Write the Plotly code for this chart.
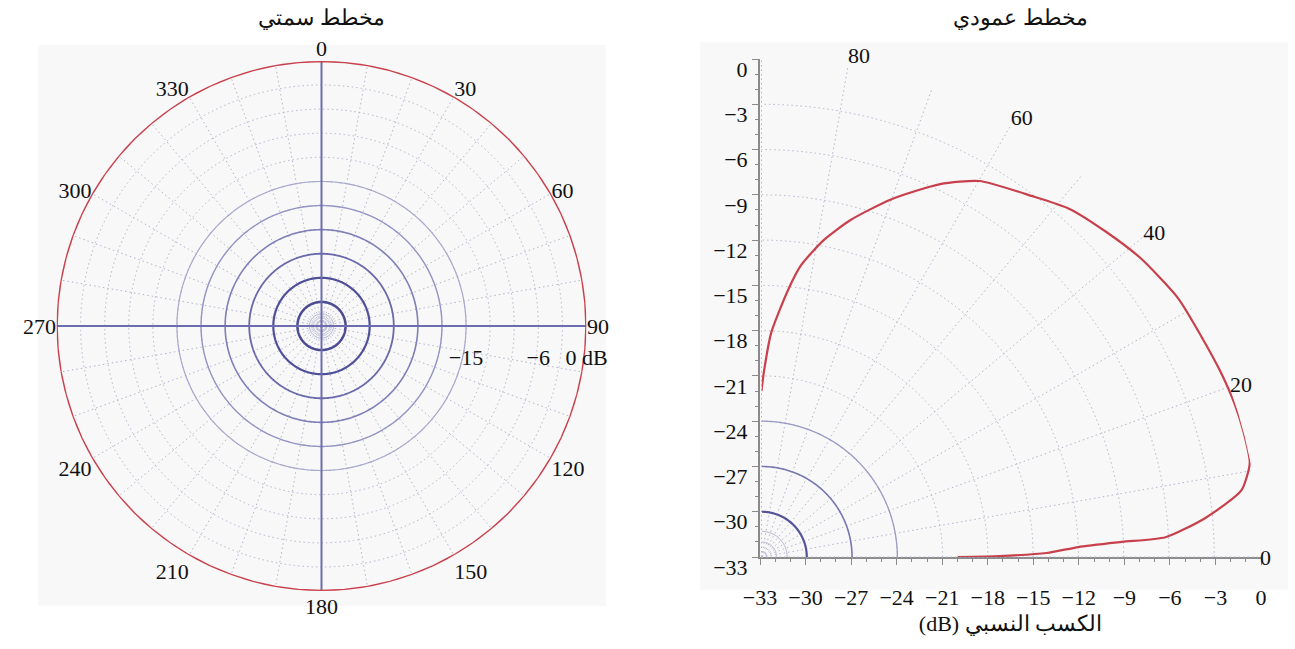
import numpy as np
import plotly.graph_objects as go

# ---------------- data ----------------
# Azimuth (horizontal) pattern: omnidirectional, 0 dB all round
azimuth_deg = list(range(0, 361, 5))
azimuth_gain_db = [0.0] * len(azimuth_deg)

# Elevation (vertical) pattern
elevation_deg = [0, 0.24, 0.8, 1.8, 2.4, 2.8, 5.0, 7.9, 10.9, 14.6, 17.9, 22.0, 26.8,
                 31.8, 38.1, 43.3, 48.5, 53.1, 59.9, 64.4, 70.1, 75.2, 78.9, 82.3,
                 84.3, 87.5, 89.3, 90]
elevation_gain_db = [-20.0, -17.2, -14.1, -12.0, -9.1, -6.2, -3.5, -0.9, -0.05, 0.0,
                     -0.05, -0.2, -0.4, -0.5, -1.0, -1.6, -2.2, -3.1, -4.2, -5.6, -7.8,
                     -9.9, -11.6, -13.5, -15.2, -18.1, -20.8, -22.0]

db_ticks = list(range(-33, 1, 3))
az_grid_angles = list(range(0, 360, 10))
el_grid_angles = list(range(0, 91, 10))
el_label_angles = [0, 20, 40, 60, 80]
left_radial_labels = {-15: "−15", -6: "−6", 0: "0 dB"}

title_left = "مخطط سمتي"
title_right = "مخطط عمودي"
xtitle_right = "\u202bالكسب النسبي (dB)\u202c"

# ---------------- style ----------------
W, H = 1295, 649
FONT = "Liberation Serif, DejaVu Serif, serif"
RED = "#c8404c"
GRID = "#b4b4cc"
CROSS = "#6c6cae"
DOT = "1.5px,3px"


def px_x(x):
    return x / W


def px_y(y):
    return 1 - y / H


left_dom_x = [px_x(56), px_x(587)]
left_dom_y = [px_y(591), px_y(61)]
right_dom_x = [px_x(760), px_x(1261)]
right_dom_y = [px_y(557), px_y(59)]

fig = go.Figure()

ring_theta = np.linspace(0, 360, 361)

# left: solid inner rings (decorative grid)
left_solid = [(-32.5, "#c8c8dc", 1), (-32.0, "#b4b4d2", 1), (-31.5, "#a6a6cc", 1),
              (-30, "#4c4c92", 2.5), (-27, "#50509a", 2.2), (-24, "#6a6aaa", 1.8),
              (-21, "#8080b8", 1.6), (-18, "#9494c4", 1.4), (-15, "#a8a8cc", 1.2)]
for r, c, w in left_solid:
    fig.add_trace(go.Scatterpolar(r=[r] * len(ring_theta), theta=ring_theta, mode="lines",
                                  line=dict(color=c, width=w), subplot="polar",
                                  hoverinfo="skip", showlegend=False))
# cross
for a in (0, 90):
    fig.add_trace(go.Scatterpolar(r=[0, -33, -33, 0], theta=[a, a, a + 180, a + 180],
                                  mode="lines", line=dict(color=CROSS, width=2),
                                  subplot="polar", hoverinfo="skip", showlegend=False))
# azimuth pattern
fig.add_trace(go.Scatterpolar(r=azimuth_gain_db, theta=azimuth_deg, mode="lines",
                              line=dict(color=RED, width=2.6), subplot="polar",
                              showlegend=False))

# right: solid inner arcs
arc_theta = np.linspace(0, 90, 91)
right_solid = [(-32.0, "#b8b8d4", 1), (-31.3, "#b0b0d0", 1), (-30, "#54549a", 2.2),
               (-27, "#7878b2", 1.6), (-24, "#9a9ac4", 1.3)]
for r, c, w in right_solid:
    fig.add_trace(go.Scatterpolar(r=[r] * len(arc_theta), theta=arc_theta, mode="lines",
                                  line=dict(color=c, width=w), subplot="polar2",
                                  hoverinfo="skip", showlegend=False))
# elevation pattern
fig.add_trace(go.Scatterpolar(r=elevation_gain_db, theta=elevation_deg, mode="lines",
                              line=dict(color=RED, width=2.2, shape="spline", smoothing=0.6),
                              subplot="polar2", showlegend=False))
# invisible trace to activate cartesian axes
fig.add_trace(go.Scatter(x=[-33, 0], y=[-33, 0], mode="markers", marker=dict(opacity=0),
                         hoverinfo="skip", showlegend=False))

az_ticktext = [str(a) if a % 30 == 0 else "" for a in az_grid_angles]
el_ticktext = [str(a) if a in el_label_angles else "" for a in el_grid_angles]
left_r_text = [left_radial_labels.get(v, "") for v in db_ticks]

axis_grey = "#8a8a8a"

fig.update_layout(
    width=W, height=H,
    margin=dict(l=0, r=0, t=0, b=0, pad=0, autoexpand=False),
    paper_bgcolor="white", plot_bgcolor="rgba(0,0,0,0)",
    font=dict(family=FONT, size=22, color="#111"),
    polar=dict(
        domain=dict(x=left_dom_x, y=left_dom_y),
        bgcolor="rgba(0,0,0,0)",
        angularaxis=dict(rotation=90, direction="clockwise", tickmode="array",
                         tickvals=az_grid_angles, ticktext=az_ticktext,
                         showline=False, ticks="", gridcolor=GRID, griddash=DOT,
                         gridwidth=1.2, tickfont=dict(size=22, family=FONT)),
        radialaxis=dict(range=[-33, 0], tickmode="array", tickvals=db_ticks,
                        ticktext=left_r_text, angle=0, side="clockwise",
                        showline=False, ticks="outside", ticklen=12,
                        tickcolor="rgba(0,0,0,0)", gridcolor=GRID, griddash=DOT,
                        gridwidth=1.3, tickfont=dict(size=22, family=FONT)),
    ),
    polar2=dict(
        domain=dict(x=right_dom_x, y=right_dom_y),
        sector=[0, 90],
        bgcolor="rgba(0,0,0,0)",
        angularaxis=dict(rotation=0, direction="counterclockwise", tickmode="array",
                         tickvals=el_grid_angles, ticktext=el_ticktext,
                         showline=False, ticks="", gridcolor=GRID, griddash=DOT,
                         gridwidth=1.2, tickfont=dict(size=22, family=FONT)),
        radialaxis=dict(range=[-33, 0], tickmode="array", tickvals=db_ticks,
                        showticklabels=False, showline=False, ticks="",
                        gridcolor=GRID, griddash=DOT, gridwidth=1.3),
    ),
    xaxis=dict(domain=right_dom_x, range=[-33, 0], anchor="y", tickmode="array",
               tickvals=db_ticks, showgrid=False, zeroline=False, showline=True,
               automargin=False,
               linecolor=axis_grey, linewidth=2, ticks="outside", ticklen=6,
               tickcolor=axis_grey, minor=dict(dtick=1, ticklen=3, ticks="outside",
                                               tickcolor=axis_grey),
               tickfont=dict(size=22, family=FONT), ticklabelstandoff=14,
               title=dict(text=xtitle_right, font=dict(size=22, family=FONT), standoff=6)),
    yaxis=dict(domain=right_dom_y, range=[-33, 0], anchor="x", tickmode="array",
               tickvals=db_ticks, showgrid=False, zeroline=False, showline=True,
               automargin=False,
               linecolor=axis_grey, linewidth=2, ticks="outside", ticklen=6,
               tickcolor=axis_grey, minor=dict(dtick=1, ticklen=3, ticks="outside",
                                               tickcolor=axis_grey),
               tickfont=dict(size=22, family=FONT), ticklabelshift=10),
    shapes=[
        dict(type="rect", xref="paper", yref="paper", x0=px_x(38), x1=px_x(606),
             y0=px_y(606), y1=px_y(45), fillcolor="#f8f8f8", line=dict(width=0),
             layer="below"),
        dict(type="rect", xref="paper", yref="paper", x0=px_x(700), x1=px_x(1288),
             y0=px_y(590), y1=px_y(42), fillcolor="#f8f8f8", line=dict(width=0),
             layer="below"),
    ],
    annotations=[
        dict(text=title_left, x=px_x(321), y=px_y(18), xref="paper", yref="paper",
             xanchor="center", yanchor="middle",
             showarrow=False, font=dict(size=22, family=FONT)),
        dict(text=title_right, x=px_x(1020), y=px_y(18), xref="paper", yref="paper",
             xanchor="center", yanchor="middle",
             showarrow=False, font=dict(size=22, family=FONT)),
    ],
)

fig.write_html("out.html", config={"displayModeBar": False},
               post_script="document.body.style.margin='0';")
